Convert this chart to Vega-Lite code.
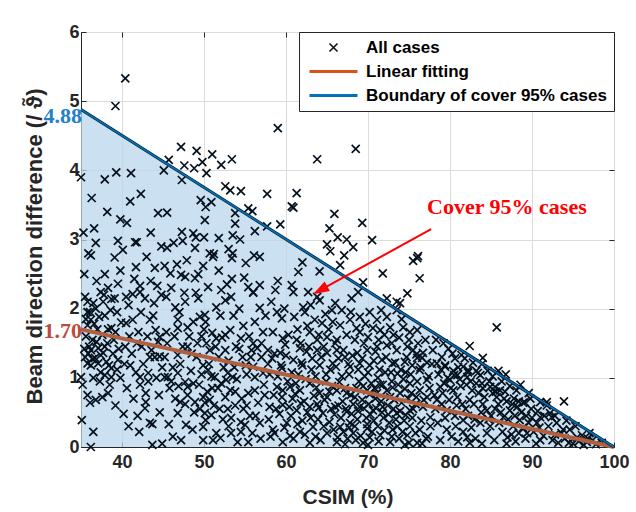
{
"$schema": "https://vega.github.io/schema/vega-lite/v6.json",
"width": 533, "height": 415,
"autosize": {"type": "none"},
"padding": {"left": 81, "top": 32, "right": 22, "bottom": 65},
"background": "white",
"config": {
  "view": {"stroke": "#262626", "strokeWidth": 1},
  "font": "Liberation Sans",
  "axis": {"labelFont": "Liberation Sans", "labelFontWeight": "bold", "labelFontSize": 18, "labelColor": "#262626",
           "titleFont": "Liberation Sans", "titleFontWeight": "bold", "titleFontSize": 21, "titleColor": "#262626",
           "domainColor": "#262626", "tickColor": "#262626", "tickSize": -5, "gridColor": "#dcdcdc", "gridWidth": 1, "labelFlush": false},
  "legend": {"orient": "top-right", "offset": 0, "padding": 7, "strokeColor": "#262626", "fillColor": "white",
             "labelFont": "Liberation Sans", "labelFontWeight": "bold", "labelFontSize": 17, "labelColor": "#000000", "labelLimit": 0,
             "symbolSize": 100, "symbolStrokeWidth": 1.6, "rowPadding": 6, "symbolOffset": 19, "labelOffset": 24, "cornerRadius": 0}
},
"resolve": {"axis": {"x": "independent", "y": "independent"}},
"datasets": {
  "bound": [{"csim": 35, "upper": 4.88, "fit": 1.70}, {"csim": 100, "upper": 0, "fit": 0}],
  "pts": [
{"csim":40.4,"diff":5.33},{"csim":39.2,"diff":4.93},{"csim":59.0,"diff":4.61},{"csim":68.5,"diff":4.31},{"csim":63.8,"diff":4.16},
{"csim":47.2,"diff":4.34},{"csim":49.1,"diff":4.28},{"csim":51.0,"diff":4.23},{"csim":53.4,"diff":4.16},{"csim":52.1,"diff":4.08},
{"csim":49.8,"diff":4.12},{"csim":47.6,"diff":4.07},{"csim":48.8,"diff":4.03},{"csim":50.3,"diff":3.96},{"csim":45.7,"diff":4.15},
{"csim":45.1,"diff":4.0},{"csim":47.3,"diff":3.86},{"csim":52.6,"diff":3.77},{"csim":53.2,"diff":3.71},{"csim":54.5,"diff":3.70},{"csim":57.7,"diff":3.66},
{"csim":61.3,"diff":3.67},{"csim":60.7,"diff":3.48},{"csim":60.9,"diff":3.46},{"csim":55.4,"diff":3.45},{"csim":55.9,"diff":3.41},{"csim":59.3,"diff":3.22},
{"csim":57.7,"diff":3.19},{"csim":65.9,"diff":3.37},{"csim":69.3,"diff":3.24},{"csim":65.3,"diff":3.16},{"csim":66.3,"diff":3.03},
{"csim":67.4,"diff":3.0},{"csim":70.5,"diff":2.99},{"csim":65.0,"diff":2.93},{"csim":68.2,"diff":2.89},{"csim":65.4,"diff":2.83},
{"csim":67.1,"diff":2.77},{"csim":76.1,"diff":2.76},{"csim":76.0,"diff":2.73},{"csim":75.5,"diff":2.69},{"csim":76.3,"diff":2.44},
{"csim":71.8,"diff":2.51},{"csim":74.8,"diff":2.22},{"csim":72.3,"diff":2.15},{"csim":73.5,"diff":2.1},{"csim":73.9,"diff":2.08},
{"csim":85.7,"diff":1.73},{"csim":82.4,"diff":1.46},{"csim":84.0,"diff":1.29},{"csim":93.9,"diff":0.66},{"csim":91.8,"diff":0.65},
{"csim":66.6,"diff":2.63},{"csim":69.4,"diff":2.38},{"csim":56.2,"diff":3.12},
{"csim":35.0,"diff":3.90},{"csim":37.9,"diff":3.87},{"csim":39.3,"diff":3.97},{"csim":41.1,"diff":3.96},{"csim":42.3,"diff":3.66},
{"csim":36.3,"diff":3.6},{"csim":49.6,"diff":3.57},{"csim":50.9,"diff":3.54},{"csim":50.2,"diff":3.47},{"csim":44.4,"diff":3.38},
{"csim":45.5,"diff":3.39},{"csim":39.8,"diff":3.29},{"csim":40.6,"diff":3.24},{"csim":50.1,"diff":3.28},{"csim":53.8,"diff":3.38},
{"csim":53.8,"diff":3.23},{"csim":36.6,"diff":3.16},{"csim":39.5,"diff":2.98},{"csim":41.6,"diff":2.96},{"csim":41.8,"diff":2.96},
{"csim":44.8,"diff":2.90},{"csim":45.5,"diff":2.88},{"csim":47.3,"diff":3.11},{"csim":48.7,"diff":3.09},{"csim":47.4,"diff":2.98},
{"csim":49.0,"diff":3.03},{"csim":50.0,"diff":3.03},{"csim":51.8,"diff":3.02},{"csim":53.5,"diff":3.06},{"csim":54.4,"diff":3.0},
{"csim":48.9,"diff":2.88},{"csim":50.7,"diff":2.80},{"csim":51.2,"diff":2.79},{"csim":53.0,"diff":2.86},{"csim":53.5,"diff":2.80},
{"csim":35.9,"diff":2.80},{"csim":36.2,"diff":2.77},{"csim":39.1,"diff":2.74},{"csim":56.1,"diff":2.77},
{"csim":44.0,"diff":2.59},{"csim":45.2,"diff":2.62},{"csim":46.7,"diff":2.64},{"csim":45.9,"diff":2.51},{"csim":47.2,"diff":2.49},
{"csim":47.7,"diff":2.46},{"csim":49.3,"diff":2.50},{"csim":48.9,"diff":2.44},{"csim":37.9,"diff":2.50},{"csim":39.5,"diff":2.36},
{"csim":41.5,"diff":2.43},{"csim":42.2,"diff":2.33},{"csim":44.3,"diff":2.33},{"csim":37.4,"diff":2.24},{"csim":40.5,"diff":2.17},
{"csim":41.3,"diff":2.21},{"csim":42.2,"diff":2.24},{"csim":35.5,"diff":2.17},{"csim":35.8,"diff":2.10},{"csim":36.5,"diff":2.08},
{"csim":37.7,"diff":2.10},{"csim":38.7,"diff":2.14},{"csim":39.1,"diff":2.15},{"csim":43.9,"diff":2.08},{"csim":45.4,"diff":2.17},
{"csim":46.5,"diff":2.02},{"csim":47.6,"diff":2.23},{"csim":47.7,"diff":2.10},{"csim":49.0,"diff":2.23},{"csim":49.3,"diff":2.15},
{"csim":50.5,"diff":2.31},{"csim":51.1,"diff":2.75},{"csim":53.4,"diff":2.73},{"csim":55.1,"diff":2.66},{"csim":53.4,"diff":2.43},
{"csim":55.4,"diff":2.31},{"csim":56.0,"diff":2.24},{"csim":52.1,"diff":2.27},{"csim":52.6,"diff":2.12},{"csim":53.3,"diff":2.17},
{"csim":51.5,"diff":2.02},{"csim":50.1,"diff":1.91},{"csim":49.5,"diff":1.88},{"csim":50.2,"diff":1.81},{"csim":48.7,"diff":1.81},
{"csim":48.0,"diff":1.73},{"csim":46.8,"diff":1.84},{"csim":46.8,"diff":1.72},{"csim":43.4,"diff":1.84},{"csim":42.3,"diff":1.95},
{"csim":41.3,"diff":1.84},{"csim":40.5,"diff":1.79},{"csim":42.0,"diff":1.66},{"csim":44.1,"diff":1.69},{"csim":44.6,"diff":1.59},
{"csim":45.4,"diff":1.66},{"csim":44.4,"diff":1.52},{"csim":35.8,"diff":1.95},{"csim":36.2,"diff":1.84},{"csim":35.8,"diff":1.76},
{"csim":38.7,"diff":1.72},{"csim":39.2,"diff":1.66},{"csim":38.3,"diff":1.70},{"csim":40.4,"diff":1.45},{"csim":36.0,"diff":1.45},
{"csim":36.2,"diff":1.40},{"csim":37.1,"diff":1.43},{"csim":37.7,"diff":1.36},{"csim":36.7,"diff":1.29},{"csim":35.8,"diff":1.21},
{"csim":36.2,"diff":1.18},{"csim":37.1,"diff":1.21},{"csim":35.5,"diff":1.30},{"csim":38.1,"diff":1.23},{"csim":39.5,"diff":1.26},
{"csim":38.7,"diff":1.14},{"csim":37.4,"diff":1.08},{"csim":37.9,"diff":1.04},{"csim":38.7,"diff":1.01},{"csim":35.0,"diff":1.01},
{"csim":41.0,"diff":1.18},{"csim":41.7,"diff":1.08},{"csim":42.2,"diff":1.01},{"csim":43.2,"diff":1.07},{"csim":43.4,"diff":1.30},
{"csim":44.0,"diff":1.30},{"csim":44.6,"diff":1.31},{"csim":45.2,"diff":1.30},{"csim":42.2,"diff":0.90},{"csim":42.9,"diff":0.78},
{"csim":42.9,"diff":0.65},{"csim":42.8,"diff":0.56},{"csim":38.3,"diff":0.78},{"csim":36.8,"diff":0.68},{"csim":36.1,"diff":0.64},
{"csim":35.1,"diff":0.39},{"csim":36.5,"diff":0.22},{"csim":40.2,"diff":0.48},{"csim":42.1,"diff":0.22},{"csim":43.7,"diff":0.33},
{"csim":43.7,"diff":0.03},{"csim":36.2,"diff":0.0},{"csim":45.7,"diff":0.33},{"csim":46.8,"diff":0.49},{"csim":47.8,"diff":0.32},
{"csim":45.2,"diff":1.01},{"csim":46.8,"diff":1.07},{"csim":47.7,"diff":0.94},{"csim":48.0,"diff":0.87},{"csim":48.7,"diff":0.92},
{"csim":48.9,"diff":0.65},{"csim":49.9,"diff":0.72},{"csim":50.1,"diff":0.64},{"csim":50.7,"diff":0.68},{"csim":49.9,"diff":1.18},
{"csim":50.5,"diff":1.11},{"csim":51.3,"diff":1.01},{"csim":52.1,"diff":0.92},{"csim":52.7,"diff":0.97},{"csim":52.9,"diff":1.07},
{"csim":53.5,"diff":1.01},{"csim":51.7,"diff":0.85},{"csim":53.2,"diff":0.82},{"csim":52.6,"diff":0.72},{"csim":50.1,"diff":0.49},
{"csim":50.2,"diff":0.39},{"csim":50.9,"diff":0.46},{"csim":49.9,"diff":0.29},{"csim":49.9,"diff":0.10},{"csim":52.0,"diff":0.13},
{"csim":53.3,"diff":0.42},{"csim":54.5,"diff":0.36},{"csim":53.3,"diff":0.20},{"csim":54.5,"diff":0.22},{"csim":55.4,"diff":0.07},
{"csim":54.1,"diff":0.07},{"csim":55.0,"diff":0.32},{"csim":52.6,"diff":1.62},{"csim":53.2,"diff":1.69},{"csim":51.5,"diff":1.57},
{"csim":52.6,"diff":1.40},{"csim":54.5,"diff":1.57},{"csim":56.0,"diff":1.50},{"csim":55.7,"diff":1.30},{"csim":55.1,"diff":1.18},
{"csim":56.2,"diff":1.01},{"csim":55.4,"diff":0.78},{"csim":56.2,"diff":0.82},{"csim":50.7,"diff":1.40},{"csim":48.0,"diff":1.45},
{"csim":46.8,"diff":1.33},{"csim":45.6,"diff":1.01},{"csim":47.1,"diff":0.65},{"csim":43.4,"diff":0.35},
{"csim":56.8,"diff":2.75},{"csim":62.0,"diff":2.67},{"csim":61.5,"diff":2.53},{"csim":64.1,"diff":2.54},{"csim":59.0,"diff":2.40},
{"csim":56.8,"diff":2.34},{"csim":58.7,"diff":2.27},{"csim":60.7,"diff":2.34},{"csim":60.9,"diff":2.24},{"csim":62.7,"diff":2.24},
{"csim":63.8,"diff":2.17},{"csim":56.0,"diff":2.23},{"csim":56.8,"diff":2.01},{"csim":58.9,"diff":1.95},{"csim":59.5,"diff":1.86},
{"csim":62.1,"diff":2.02},{"csim":62.3,"diff":1.95},{"csim":64.1,"diff":2.12},{"csim":65.6,"diff":1.98},{"csim":66.8,"diff":1.98},
{"csim":68.0,"diff":2.15},{"csim":68.8,"diff":2.24},{"csim":63.5,"diff":1.84},{"csim":64.4,"diff":1.79},{"csim":65.7,"diff":1.81},
{"csim":66.6,"diff":1.76},{"csim":67.8,"diff":1.84},{"csim":69.0,"diff":1.88},{"csim":70.2,"diff":1.95},{"csim":71.1,"diff":1.84},
{"csim":72.3,"diff":1.88},{"csim":73.5,"diff":1.98},{"csim":56.2,"diff":1.81},{"csim":57.2,"diff":1.66},{"csim":58.4,"diff":1.66},
{"csim":59.6,"diff":1.57},{"csim":61.3,"diff":1.55},{"csim":62.9,"diff":1.66},{"csim":63.8,"diff":1.55},{"csim":65.0,"diff":1.59},
{"csim":66.2,"diff":1.55},{"csim":67.4,"diff":1.62},{"csim":69.0,"diff":1.66},{"csim":70.0,"diff":1.59},{"csim":71.5,"diff":1.69},
{"csim":72.7,"diff":1.73},{"csim":74.3,"diff":1.73},{"csim":75.1,"diff":1.66},{"csim":76.0,"diff":1.69},{"csim":56.5,"diff":1.43},
{"csim":57.8,"diff":1.40},{"csim":59.3,"diff":1.36},{"csim":61.7,"diff":1.43},{"csim":62.0,"diff":1.18},{"csim":63.8,"diff":1.40},
{"csim":65.0,"diff":1.36},{"csim":66.2,"diff":1.40},{"csim":67.2,"diff":1.30},{"csim":68.7,"diff":1.36},{"csim":69.9,"diff":1.40},
{"csim":71.1,"diff":1.45},{"csim":72.3,"diff":1.47},{"csim":73.5,"diff":1.40},{"csim":74.8,"diff":1.45},{"csim":76.1,"diff":1.50},
{"csim":76.7,"diff":1.36},{"csim":56.0,"diff":1.16},{"csim":57.2,"diff":1.07},{"csim":59.5,"diff":1.14},{"csim":60.9,"diff":1.26},
{"csim":64.1,"diff":1.18},{"csim":65.7,"diff":1.21},{"csim":67.8,"diff":1.16},{"csim":69.0,"diff":1.21},{"csim":70.2,"diff":1.18},
{"csim":71.7,"diff":1.26},{"csim":73.0,"diff":1.21},{"csim":74.5,"diff":1.23},{"csim":76.0,"diff":1.29},{"csim":58.9,"diff":0.87},
{"csim":59.6,"diff":0.82},{"csim":60.5,"diff":0.87},{"csim":61.7,"diff":0.82},{"csim":62.9,"diff":0.92},{"csim":64.1,"diff":0.78},
{"csim":65.0,"diff":0.72},{"csim":66.2,"diff":0.82},{"csim":67.4,"diff":0.78},{"csim":68.4,"diff":0.72},{"csim":69.9,"diff":0.82},
{"csim":71.1,"diff":0.78},{"csim":71.8,"diff":0.90},{"csim":72.7,"diff":0.72},{"csim":73.9,"diff":0.78},{"csim":75.1,"diff":0.92},
{"csim":76.3,"diff":0.82},{"csim":77.2,"diff":0.72},{"csim":56.6,"diff":0.64},{"csim":58.0,"diff":0.58},{"csim":59.6,"diff":0.61},
{"csim":61.3,"diff":0.53},{"csim":62.9,"diff":0.58},{"csim":64.5,"diff":0.49},{"csim":66.0,"diff":0.58},{"csim":67.4,"diff":0.51},
{"csim":69.0,"diff":0.58},{"csim":70.6,"diff":0.53},{"csim":71.8,"diff":0.58},{"csim":73.5,"diff":0.49},{"csim":75.1,"diff":0.53},
{"csim":76.7,"diff":0.58},{"csim":56.8,"diff":0.35},{"csim":58.4,"diff":0.25},{"csim":60.1,"diff":0.35},{"csim":61.7,"diff":0.22},
{"csim":63.3,"diff":0.29},{"csim":65.0,"diff":0.20},{"csim":66.6,"diff":0.29},{"csim":68.2,"diff":0.20},{"csim":69.9,"diff":0.27},
{"csim":71.5,"diff":0.17},{"csim":73.0,"diff":0.25},{"csim":74.8,"diff":0.17},{"csim":76.3,"diff":0.25},{"csim":59.6,"diff":0.07},
{"csim":62.9,"diff":0.06},{"csim":66.2,"diff":0.07},{"csim":69.4,"diff":0.06},{"csim":72.7,"diff":0.07},{"csim":76.0,"diff":0.06},
{"csim":77.9,"diff":1.40},{"csim":78.4,"diff":1.21},{"csim":79.4,"diff":1.18},{"csim":80.9,"diff":1.04},{"csim":82.2,"diff":1.11},
{"csim":83.4,"diff":1.07},{"csim":82.1,"diff":1.01},{"csim":85.5,"diff":0.87},{"csim":86.7,"diff":0.80},{"csim":85.2,"diff":0.78},
{"csim":80.4,"diff":0.82},{"csim":78.8,"diff":0.87},{"csim":77.2,"diff":0.97},{"csim":89.1,"diff":0.65},{"csim":88.2,"diff":0.58},
{"csim":91.8,"diff":0.60},{"csim":92.4,"diff":0.43},{"csim":90.6,"diff":0.35},{"csim":93.8,"diff":0.25},{"csim":95.5,"diff":0.14},
{"csim":96.7,"diff":0.07},{"csim":86.5,"diff":0.43},{"csim":84.5,"diff":0.53},{"csim":82.4,"diff":0.68},{"csim":83.7,"diff":0.35},
{"csim":81.6,"diff":0.39},{"csim":79.6,"diff":0.53},{"csim":78.4,"diff":0.68},{"csim":77.6,"diff":0.43},{"csim":79.6,"diff":0.25},
{"csim":82.1,"diff":0.14},{"csim":84.5,"diff":0.20},{"csim":87.0,"diff":0.14},{"csim":89.4,"diff":0.20},{"csim":91.0,"diff":0.10},
{"csim":88.5,"diff":0.39},{"csim":87.3,"diff":0.53},{"csim":80.0,"diff":0.97},{"csim":83.9,"diff":0.92},{"csim":85.7,"diff":0.72},
{"csim":80.9,"diff":0.72},{"csim":76.6,"diff":1.29},{"csim":76.3,"diff":1.11},{"csim":79.4,"diff":1.16},{"csim":80.5,"diff":1.04},
{"csim":81.6,"diff":1.16},{"csim":82.2,"diff":1.08},{"csim":83.7,"diff":1.04},{"csim":84.9,"diff":0.87},{"csim":86.1,"diff":0.82},
{"csim":88.9,"diff":0.64},{"csim":92.2,"diff":0.49},{"csim":91.0,"diff":0.43},{"csim":93.0,"diff":0.35},{"csim":94.6,"diff":0.25},
{"csim":96.1,"diff":0.17},{"csim":97.4,"diff":0.10},{"csim":98.5,"diff":0.06},
{"csim":57.5,"diff":1.9},{"csim":58.2,"diff":2.1},{"csim":59.8,"diff":2.0},{"csim":61.0,"diff":1.88},{"csim":62.6,"diff":1.75},
{"csim":63.0,"diff":2.05},{"csim":64.8,"diff":1.92},{"csim":66.0,"diff":2.08},{"csim":57.0,"diff":1.5},{"csim":58.6,"diff":1.35},
{"csim":60.3,"diff":1.62},{"csim":61.8,"diff":1.5},{"csim":63.2,"diff":1.28},{"csim":64.6,"diff":1.45},{"csim":65.4,"diff":1.12},
{"csim":66.4,"diff":1.28},{"csim":57.8,"diff":1.2},{"csim":59.0,"diff":1.02},{"csim":60.2,"diff":0.95},{"csim":61.5,"diff":1.05},
{"csim":62.4,"diff":0.98},{"csim":63.6,"diff":1.02},{"csim":64.9,"diff":0.95},{"csim":66.8,"diff":1.02},{"csim":57.3,"diff":0.9},
{"csim":58.5,"diff":0.75},{"csim":60.8,"diff":0.7},{"csim":62.2,"diff":0.66},{"csim":63.8,"diff":0.62},{"csim":65.5,"diff":0.55},
{"csim":66.9,"diff":0.66},{"csim":56.3,"diff":0.45},{"csim":57.9,"diff":0.4},{"csim":59.2,"diff":0.48},{"csim":60.6,"diff":0.45},
{"csim":62.0,"diff":0.38},{"csim":63.9,"diff":0.4},{"csim":65.3,"diff":0.36},{"csim":66.7,"diff":0.42},{"csim":56.9,"diff":0.12},
{"csim":58.1,"diff":0.15},{"csim":60.9,"diff":0.12},{"csim":64.2,"diff":0.1},{"csim":67.5,"diff":0.12},
{"csim":67.9,"diff":1.95},{"csim":68.6,"diff":1.72},{"csim":69.5,"diff":1.5},{"csim":70.6,"diff":1.72},{"csim":71.3,"diff":1.55},
{"csim":72.0,"diff":1.62},{"csim":72.9,"diff":1.5},{"csim":73.8,"diff":1.58},{"csim":74.7,"diff":1.3},{"csim":75.5,"diff":1.4},
{"csim":76.4,"diff":1.15},{"csim":77.2,"diff":1.22},{"csim":67.7,"diff":1.05},{"csim":68.9,"diff":0.95},{"csim":69.6,"diff":1.02},
{"csim":70.4,"diff":0.92},{"csim":71.2,"diff":1.0},{"csim":72.1,"diff":1.08},{"csim":72.9,"diff":0.95},{"csim":73.6,"diff":1.06},
{"csim":74.3,"diff":0.98},{"csim":75.2,"diff":1.05},{"csim":76.0,"diff":0.95},{"csim":77.4,"diff":1.02},{"csim":68.2,"diff":0.62},
{"csim":69.3,"diff":0.68},{"csim":70.1,"diff":0.62},{"csim":70.9,"diff":0.7},{"csim":71.6,"diff":0.66},{"csim":72.4,"diff":0.6},
{"csim":73.2,"diff":0.68},{"csim":74.1,"diff":0.64},{"csim":74.9,"diff":0.7},{"csim":75.8,"diff":0.62},{"csim":76.8,"diff":0.68},
{"csim":67.8,"diff":0.35},{"csim":68.7,"diff":0.4},{"csim":69.8,"diff":0.42},{"csim":70.7,"diff":0.38},{"csim":71.9,"diff":0.42},
{"csim":72.6,"diff":0.35},{"csim":73.4,"diff":0.4},{"csim":74.4,"diff":0.38},{"csim":75.4,"diff":0.42},{"csim":76.5,"diff":0.38},
{"csim":77.6,"diff":0.3},{"csim":68.5,"diff":0.1},{"csim":70.2,"diff":0.14},{"csim":71.3,"diff":0.08},{"csim":73.8,"diff":0.12},
{"csim":75.0,"diff":0.06},{"csim":77.1,"diff":0.12},
{"csim":78.3,"diff":1.55},{"csim":79.0,"diff":1.3},{"csim":79.8,"diff":1.42},{"csim":80.6,"diff":1.28},{"csim":81.4,"diff":1.33},
{"csim":81.0,"diff":1.15},{"csim":82.8,"diff":1.22},{"csim":83.9,"diff":1.2},{"csim":84.6,"diff":1.1},{"csim":85.2,"diff":1.02},
{"csim":86.3,"diff":0.95},{"csim":87.3,"diff":0.88},{"csim":88.1,"diff":0.82},{"csim":89.6,"diff":0.78},{"csim":78.6,"diff":1.05},
{"csim":79.3,"diff":0.92},{"csim":80.1,"diff":0.85},{"csim":81.3,"diff":0.88},{"csim":82.7,"diff":0.82},{"csim":83.5,"diff":0.78},
{"csim":84.2,"diff":0.72},{"csim":85.9,"diff":0.62},{"csim":86.9,"diff":0.66},{"csim":87.8,"diff":0.7},{"csim":88.7,"diff":0.5},
{"csim":89.9,"diff":0.55},{"csim":90.7,"diff":0.52},{"csim":91.5,"diff":0.45},{"csim":78.1,"diff":0.75},{"csim":79.0,"diff":0.62},
{"csim":80.8,"diff":0.6},{"csim":81.9,"diff":0.55},{"csim":82.9,"diff":0.62},{"csim":83.8,"diff":0.5},{"csim":85.0,"diff":0.45},
{"csim":86.0,"diff":0.35},{"csim":87.7,"diff":0.3},{"csim":88.9,"diff":0.28},{"csim":90.2,"diff":0.22},{"csim":92.0,"diff":0.3},
{"csim":92.8,"diff":0.18},{"csim":94.0,"diff":0.12},{"csim":78.5,"diff":0.35},{"csim":79.4,"diff":0.42},{"csim":80.7,"diff":0.3},
{"csim":81.6,"diff":0.22},{"csim":82.6,"diff":0.28},{"csim":83.1,"diff":0.12},{"csim":84.9,"diff":0.3},{"csim":86.4,"diff":0.22},
{"csim":88.0,"diff":0.08},{"csim":89.2,"diff":0.12},{"csim":90.5,"diff":0.05},{"csim":93.2,"diff":0.06},{"csim":95.0,"diff":0.05},
{"csim":96.8,"diff":0.12},{"csim":97.8,"diff":0.04},
{"csim":44.8,"diff":2.2},{"csim":46.0,"diff":2.3},{"csim":47.0,"diff":1.95},{"csim":48.2,"diff":1.6},{"csim":49.2,"diff":1.5},
{"csim":50.0,"diff":1.7},{"csim":51.0,"diff":1.65},{"csim":52.0,"diff":1.9},{"csim":53.6,"diff":1.9},{"csim":54.3,"diff":2.0},
{"csim":54.8,"diff":1.75},{"csim":55.5,"diff":1.6},{"csim":53.9,"diff":1.45},{"csim":54.7,"diff":1.3},{"csim":51.8,"diff":1.3},
{"csim":50.6,"diff":1.2},{"csim":49.1,"diff":1.3},{"csim":48.4,"diff":1.1},{"csim":47.1,"diff":1.2},{"csim":46.2,"diff":1.15},
{"csim":44.9,"diff":1.15},{"csim":45.8,"diff":0.85},{"csim":44.5,"diff":0.75},{"csim":46.5,"diff":0.7},{"csim":47.7,"diff":0.62},
{"csim":49.4,"diff":0.9},{"csim":51.0,"diff":0.85},{"csim":51.9,"diff":0.55},{"csim":53.8,"diff":0.6},{"csim":54.8,"diff":0.55},
{"csim":55.6,"diff":0.45},{"csim":53.0,"diff":0.3},{"csim":51.5,"diff":0.2},{"csim":48.6,"diff":0.25},{"csim":46.2,"diff":0.15},
{"csim":55.2,"diff":1.05},{"csim":54.0,"diff":0.98},{"csim":52.4,"diff":1.15},{"csim":50.9,"diff":1.02},{"csim":49.7,"diff":1.05},
{"csim":35.6,"diff":1.6},{"csim":36.4,"diff":1.55},{"csim":37.0,"diff":1.7},{"csim":37.6,"diff":1.62},{"csim":38.2,"diff":1.5},
{"csim":38.9,"diff":1.35},{"csim":39.6,"diff":1.42},{"csim":40.3,"diff":1.2},{"csim":41.2,"diff":1.35},{"csim":42.4,"diff":1.45},
{"csim":43.1,"diff":1.6},{"csim":43.8,"diff":1.9},{"csim":36.8,"diff":2.0},{"csim":37.9,"diff":1.9},{"csim":39.4,"diff":1.95},
{"csim":40.8,"diff":2.05},{"csim":42.8,"diff":2.15},{"csim":43.5,"diff":2.4},{"csim":41.7,"diff":2.6},{"csim":39.8,"diff":2.55},
{"csim":38.3,"diff":2.3},{"csim":36.9,"diff":2.4},{"csim":35.4,"diff":2.5},{"csim":36.5,"diff":1.0},{"csim":37.3,"diff":0.95},
{"csim":38.5,"diff":0.9},{"csim":39.8,"diff":1.0},{"csim":40.6,"diff":0.85},{"csim":41.4,"diff":0.7},{"csim":43.2,"diff":0.95},
{"csim":35.3,"diff":3.1},{"csim":38.2,"diff":3.4},{"csim":41.0,"diff":3.55},{"csim":43.5,"diff":3.1},{"csim":36.8,"diff":2.95},
{"csim":58.3,"diff":1.28},{"csim":59.4,"diff":1.18},{"csim":60.0,"diff":1.32},{"csim":60.7,"diff":1.08},{"csim":61.2,"diff":0.92},
{"csim":61.9,"diff":1.22},{"csim":62.5,"diff":1.38},{"csim":63.1,"diff":1.12},{"csim":63.7,"diff":0.86},{"csim":64.3,"diff":1.3},
{"csim":64.9,"diff":1.05},{"csim":65.6,"diff":0.88},{"csim":66.1,"diff":1.16},{"csim":66.5,"diff":0.94},{"csim":58.8,"diff":0.55},
{"csim":59.5,"diff":0.72},{"csim":60.4,"diff":0.58},{"csim":61.1,"diff":0.77},{"csim":61.8,"diff":0.63},{"csim":62.6,"diff":0.5},
{"csim":63.4,"diff":0.74},{"csim":64.0,"diff":0.57},{"csim":64.7,"diff":0.68},{"csim":65.3,"diff":0.8},{"csim":65.9,"diff":0.47},
{"csim":66.4,"diff":0.6},{"csim":58.6,"diff":0.2},{"csim":59.8,"diff":0.28},{"csim":60.5,"diff":0.16},{"csim":61.4,"diff":0.33},
{"csim":62.3,"diff":0.18},{"csim":63.0,"diff":0.42},{"csim":63.6,"diff":0.15},{"csim":64.6,"diff":0.3},{"csim":65.8,"diff":0.25},
{"csim":66.3,"diff":0.14},{"csim":57.4,"diff":0.75},{"csim":57.0,"diff":1.3},{"csim":58.0,"diff":1.05},{"csim":59.9,"diff":1.48},
{"csim":61.4,"diff":1.7},{"csim":62.8,"diff":1.45},{"csim":64.0,"diff":1.62},{"csim":65.2,"diff":1.7},{"csim":66.0,"diff":1.5},
{"csim":67.0,"diff":1.4},{"csim":67.6,"diff":1.2},{"csim":68.1,"diff":1.32},{"csim":68.8,"diff":1.12},{"csim":69.3,"diff":1.28},
{"csim":70.0,"diff":1.08},{"csim":70.7,"diff":1.25},{"csim":71.4,"diff":1.12},{"csim":72.2,"diff":1.3},{"csim":72.8,"diff":1.08},
{"csim":73.3,"diff":1.22},{"csim":74.0,"diff":1.12},{"csim":74.6,"diff":1.08},{"csim":75.4,"diff":1.18},{"csim":75.9,"diff":1.34},
{"csim":67.2,"diff":0.85},{"csim":67.9,"diff":0.75},{"csim":68.6,"diff":0.85},{"csim":69.4,"diff":0.88},{"csim":70.2,"diff":0.76},
{"csim":70.8,"diff":0.85},{"csim":71.5,"diff":0.9},{"csim":72.3,"diff":0.82},{"csim":73.0,"diff":0.86},{"csim":73.7,"diff":0.9},
{"csim":74.5,"diff":0.84},{"csim":75.3,"diff":0.78},{"csim":75.9,"diff":0.72},{"csim":67.3,"diff":0.55},{"csim":68.0,"diff":0.48},
{"csim":68.8,"diff":0.52},{"csim":69.5,"diff":0.56},{"csim":70.3,"diff":0.47},{"csim":71.0,"diff":0.56},{"csim":71.7,"diff":0.5},
{"csim":72.5,"diff":0.47},{"csim":73.1,"diff":0.55},{"csim":73.9,"diff":0.52},{"csim":74.6,"diff":0.46},{"csim":75.5,"diff":0.55},
{"csim":67.0,"diff":0.22},{"csim":67.7,"diff":0.28},{"csim":68.4,"diff":0.3},{"csim":69.1,"diff":0.16},{"csim":69.9,"diff":0.33},
{"csim":70.5,"diff":0.22},{"csim":71.2,"diff":0.3},{"csim":72.0,"diff":0.24},{"csim":72.9,"diff":0.15},{"csim":73.6,"diff":0.3},
{"csim":74.2,"diff":0.22},{"csim":75.1,"diff":0.3},{"csim":75.8,"diff":0.2},{"csim":76.6,"diff":0.05},{"csim":67.2,"diff":0.04},
{"csim":70.0,"diff":0.03},{"csim":74.5,"diff":0.03},{"csim":68.4,"diff":1.55},{"csim":70.9,"diff":1.38},{"csim":73.1,"diff":1.62},
{"csim":75.0,"diff":1.55},{"csim":69.7,"diff":1.78},{"csim":71.6,"diff":1.98},{"csim":74.1,"diff":1.85},
{"csim":77.0,"diff":1.55},{"csim":77.8,"diff":1.2},{"csim":78.9,"diff":1.12},{"csim":79.7,"diff":1.0},{"csim":80.4,"diff":1.1},
{"csim":81.2,"diff":0.98},{"csim":82.0,"diff":0.9},{"csim":82.5,"diff":0.95},{"csim":83.2,"diff":0.92},{"csim":84.0,"diff":0.85},
{"csim":84.8,"diff":0.95},{"csim":85.6,"diff":0.8},{"csim":86.6,"diff":0.7},{"csim":87.6,"diff":0.62},{"csim":88.4,"diff":0.66},
{"csim":89.3,"diff":0.45},{"csim":90.0,"diff":0.42},{"csim":77.5,"diff":0.85},{"csim":78.2,"diff":0.55},{"csim":79.1,"diff":0.78},
{"csim":79.9,"diff":0.68},{"csim":80.6,"diff":0.45},{"csim":81.5,"diff":0.62},{"csim":82.2,"diff":0.45},{"csim":83.0,"diff":0.4},
{"csim":84.0,"diff":0.62},{"csim":84.7,"diff":0.4},{"csim":85.5,"diff":0.55},{"csim":86.2,"diff":0.5},{"csim":87.1,"diff":0.4},
{"csim":87.9,"diff":0.45},{"csim":88.4,"diff":0.2},{"csim":89.6,"diff":0.35},{"csim":77.3,"diff":0.15},{"csim":78.8,"diff":0.1},
{"csim":80.2,"diff":0.15},{"csim":81.0,"diff":0.08},{"csim":82.4,"diff":0.06},{"csim":83.9,"diff":0.05},{"csim":85.4,"diff":0.1},
{"csim":86.9,"diff":0.05},{"csim":87.5,"diff":0.18},{"csim":90.9,"diff":0.28},{"csim":91.4,"diff":0.16},{"csim":92.5,"diff":0.1},
{"csim":93.6,"diff":0.2},{"csim":94.5,"diff":0.06},{"csim":95.7,"diff":0.08},{"csim":96.3,"diff":0.03},{"csim":80.3,"diff":1.35},
{"csim":81.8,"diff":1.28},{"csim":79.2,"diff":1.5},{"csim":83.2,"diff":1.1},{"csim":85.9,"diff":1.1},{"csim":86.8,"diff":1.05},
{"csim":88.6,"diff":0.9},{"csim":89.8,"diff":0.7},{"csim":91.0,"diff":0.65},{"csim":92.8,"diff":0.45},{"csim":94.2,"diff":0.38},
{"csim":95.3,"diff":0.3},{"csim":97.0,"diff":0.2},
{"csim":35.4,"diff":1.42},{"csim":35.9,"diff":1.35},{"csim":36.4,"diff":1.27},{"csim":36.9,"diff":1.52},{"csim":37.4,"diff":1.33},
{"csim":37.9,"diff":1.45},{"csim":38.4,"diff":1.18},{"csim":39.0,"diff":1.55},{"csim":39.4,"diff":1.12},{"csim":35.6,"diff":1.85},
{"csim":36.1,"diff":1.95},{"csim":36.6,"diff":1.78},{"csim":37.2,"diff":1.88},{"csim":37.8,"diff":2.2},{"csim":38.6,"diff":1.98},
{"csim":39.9,"diff":1.8},{"csim":40.9,"diff":1.6},{"csim":41.8,"diff":1.5},{"csim":42.6,"diff":1.2},{"csim":43.6,"diff":1.4},
{"csim":44.2,"diff":1.0},{"csim":35.2,"diff":0.9},{"csim":35.8,"diff":0.75},{"csim":37.6,"diff":0.72},{"csim":39.2,"diff":0.6},
{"csim":40.8,"diff":0.3},{"csim":41.9,"diff":0.45},{"csim":44.6,"diff":0.5},
{"csim":45.5,"diff":1.5},{"csim":46.4,"diff":1.6},{"csim":47.4,"diff":1.45},{"csim":48.5,"diff":1.35},{"csim":49.7,"diff":1.6},
{"csim":50.3,"diff":1.5},{"csim":51.4,"diff":1.45},{"csim":52.2,"diff":1.58},{"csim":53.0,"diff":1.25},{"csim":53.7,"diff":1.15},
{"csim":54.3,"diff":1.42},{"csim":55.8,"diff":1.4},{"csim":46.0,"diff":0.95},{"csim":46.9,"diff":0.88},{"csim":48.0,"diff":0.75},
{"csim":48.8,"diff":0.5},{"csim":49.5,"diff":0.55},{"csim":50.4,"diff":0.8},{"csim":51.2,"diff":0.6},{"csim":52.3,"diff":0.4},
{"csim":52.9,"diff":0.55},{"csim":53.8,"diff":0.8},{"csim":54.6,"diff":0.7},{"csim":55.2,"diff":0.6},{"csim":55.9,"diff":0.2},
{"csim":51.1,"diff":0.1},{"csim":47.2,"diff":0.1},{"csim":44.9,"diff":0.05},{"csim":52.8,"diff":2.35},{"csim":54.9,"diff":2.45},
{"csim":51.8,"diff":2.55},{"csim":49.9,"diff":2.62},{"csim":47.9,"diff":2.7},{"csim":46.3,"diff":2.95},{"csim":43.0,"diff":2.75},
{"csim":40.1,"diff":2.85}
  ]
},
"layer": [
  {"data": {"name": "bound"},
   "mark": {"type": "area", "color": "#b9d5ec", "opacity": 0.75},
   "encoding": {
     "x": {"field": "csim", "type": "quantitative", "scale": {"domain": [35, 100], "nice": false, "zero": false},
           "axis": {"values": [40, 50, 60, 70, 80, 90, 100], "title": "CSIM (%)", "grid": true, "labelPadding": 11, "titleY": 56, "titleBaseline": "alphabetic"}},
     "y": {"field": "upper", "type": "quantitative", "scale": {"domain": [0, 6], "nice": false},
           "axis": {"values": [0, 1, 2, 3, 4, 5, 6], "title": "Beam direction difference (/ ϑ̃)", "grid": true, "labelPadding": 7, "titleX": -40, "titleY": 214, "titleBaseline": "alphabetic", "titleFontSize": 22}},
     "y2": {"datum": 0}
   }},
  {"data": {"name": "pts"},
   "mark": {"type": "point", "filled": false, "size": 100, "strokeWidth": 1.7, "opacity": 1},
   "encoding": {
     "x": {"field": "csim", "type": "quantitative", "axis": null},
     "y": {"field": "diff", "type": "quantitative", "axis": null},
     "color": {"datum": "All cases", "scale": {"domain": ["All cases", "Linear fitting", "Boundary of cover 95% cases"], "range": ["#05111c", "#D95319", "#0072BD"]}, "legend": {"title": null}},
     "shape": {"datum": "All cases", "scale": {"domain": ["All cases", "Linear fitting", "Boundary of cover 95% cases"], "range": ["M-0.8,-0.8L0.8,0.8M-0.8,0.8L0.8,-0.8", "M-4.8,-0.14L4.8,-0.14M-4.8,0L4.8,0M-4.8,0.14L4.8,0.14", "M-4.8,-0.14L4.8,-0.14M-4.8,0L4.8,0M-4.8,0.14L4.8,0.14"]}, "legend": {"title": null}}
   }},
  {"data": {"name": "bound"},
   "mark": {"type": "line", "color": "#b0603e", "strokeWidth": 4},
   "encoding": {"x": {"field": "csim", "type": "quantitative", "axis": null}, "y": {"field": "fit", "type": "quantitative", "axis": null}}},
  {"data": {"name": "bound"},
   "mark": {"type": "line", "color": "#0a1a2a", "strokeWidth": 3},
   "encoding": {"x": {"field": "csim", "type": "quantitative", "axis": null}, "y": {"field": "upper", "type": "quantitative", "axis": null}}},
  {"data": {"name": "bound"},
   "mark": {"type": "line", "color": "#0072BD", "strokeWidth": 1.6},
   "encoding": {"x": {"field": "csim", "type": "quantitative", "axis": null}, "y": {"field": "upper", "type": "quantitative", "axis": null}}},
  {"data": {"values": [{"csim": 35, "val": 4.88, "label": "4.88"}]},
   "mark": {"type": "text", "font": "Liberation Serif", "fontWeight": "bold", "fontSize": 22, "color": "#1f80cc", "align": "right", "baseline": "middle", "dy": 7, "dx": 1},
   "encoding": {"x": {"field": "csim", "type": "quantitative", "axis": null}, "y": {"field": "val", "type": "quantitative", "axis": null}, "text": {"field": "label"}}},
  {"data": {"values": [{"csim": 35, "val": 1.70, "label": "1.70"}]},
   "mark": {"type": "text", "font": "Liberation Serif", "fontWeight": "bold", "fontSize": 22, "color": "#b84a3e", "align": "right", "baseline": "middle", "dy": 2, "dx": 1},
   "encoding": {"x": {"field": "csim", "type": "quantitative", "axis": null}, "y": {"field": "val", "type": "quantitative", "axis": null}, "text": {"field": "label"}}},
  {"data": {"values": [{"csim": 77.2, "val": 3.47, "label": "Cover 95% cases"}]},
   "mark": {"type": "text", "font": "Liberation Serif", "fontWeight": "bold", "fontSize": 22, "color": "#ff0000", "align": "left", "baseline": "middle"},
   "encoding": {"x": {"field": "csim", "type": "quantitative", "axis": null}, "y": {"field": "val", "type": "quantitative", "axis": null}, "text": {"field": "label"}}},
  {"data": {"values": [{"x1": 77.7, "y1": 3.15, "x2": 63.9, "y2": 2.25}]},
   "mark": {"type": "rule", "color": "#ff0000", "strokeWidth": 2},
   "encoding": {"x": {"field": "x1", "type": "quantitative", "axis": null}, "y": {"field": "y1", "type": "quantitative", "axis": null}, "x2": {"field": "x2"}, "y2": {"field": "y2"}}},
  {"data": {"values": [{"x": 63.3, "y": 2.21}]},
   "mark": {"type": "point", "filled": true, "color": "#ff0000", "opacity": 1, "size": 324, "angle": 241, "shape": "M0,0L-0.6,1.8L0.6,1.8Z", "strokeWidth": 0},
   "encoding": {"x": {"field": "x", "type": "quantitative", "axis": null}, "y": {"field": "y", "type": "quantitative", "axis": null}}},
  {"data": {"name": "bound"},
   "mark": {"type": "line", "opacity": 0},
   "encoding": {
     "x": {"field": "csim", "type": "quantitative", "axis": {"orient": "top", "labels": false, "title": null, "grid": false, "domain": false, "values": [40, 50, 60, 70, 80, 90, 100]}},
     "y": {"field": "upper", "type": "quantitative", "axis": {"orient": "right", "labels": false, "title": null, "grid": false, "domain": false, "values": [0, 1, 2, 3, 4, 5, 6]}}
   }}
]
}
